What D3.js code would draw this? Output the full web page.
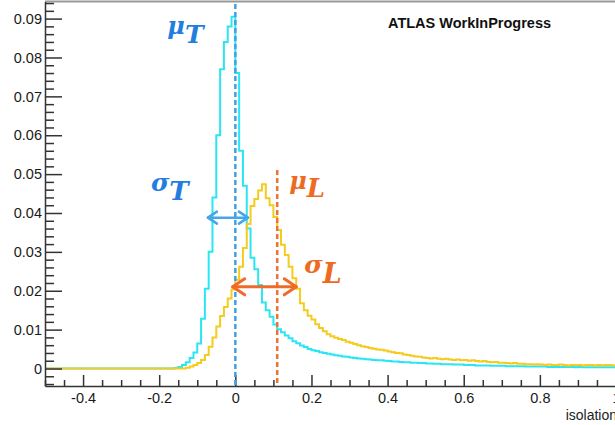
<!DOCTYPE html>
<html>
<head>
<meta charset="utf-8">
<script src="https://cdn.jsdelivr.net/npm/d3@7"></script>
<style>
  body { margin: 0; background: #fff; }
  svg { display: block; }
</style>
</head>
<body>
<script>
// isolation histograms, bins of 0.01 from -0.5 to 1.0
const binStart = -0.5;
const binWidth = 0.01;

// tight (T) sample, cyan
const tightValues = [
  0, 0, 0, 0, 0, 0, 0, 0, 0, 0,
  0, 0, 0, 0, 0, 0, 0, 0, 0, 0,
  0, 0, 0, 0, 0, 0, 0, 0, 0, 0,
  0, 0, 0, 0, 0.0001, 0.0004, 0.0009, 0.0016, 0.0027, 0.0041,
  0.0064, 0.0128, 0.0205, 0.0300, 0.0440, 0.0600, 0.0770, 0.0840, 0.0880, 0.0905,
  0.0760, 0.0560, 0.0470, 0.0360, 0.0285, 0.0255, 0.0215, 0.0170, 0.0150, 0.0133,
  0.0113, 0.0101, 0.0093, 0.0085, 0.0078, 0.0070, 0.0065, 0.0059, 0.0055, 0.0050,
  0.0047, 0.0045, 0.0042, 0.0040, 0.0038, 0.0036, 0.0034, 0.0033, 0.0031, 0.0030,
  0.0028, 0.0027, 0.0026, 0.0025, 0.0024, 0.0023, 0.0022, 0.0021, 0.0021, 0.0020,
  0.0019, 0.0018, 0.0018, 0.0017, 0.0016, 0.0016, 0.0015, 0.0015, 0.0014, 0.0014,
  0.0013, 0.0013, 0.0012, 0.0012, 0.0011, 0.0011, 0.0011, 0.0010, 0.0010, 0.0010,
  0.0009, 0.0009, 0.0009, 0.0008, 0.0008, 0.0008, 0.0008, 0.0007, 0.0007, 0.0007,
  0.0007, 0.0006, 0.0006, 0.0006, 0.0006, 0.0006, 0.0005, 0.0005, 0.0005, 0.0005,
  0.0005, 0.0005, 0.0004, 0.0004, 0.0004, 0.0004, 0.0004, 0.0004, 0.0004, 0.0003,
  0.0004, 0.0003, 0.0003, 0.0003, 0.0003, 0.0003, 0.0003, 0.0003, 0.0003, 0.0003
];

// loose (L) sample, yellow
const looseValues = [
  0, 0, 0, 0, 0, 0, 0, 0, 0, 0,
  0, 0, 0, 0, 0, 0, 0, 0, 0, 0,
  0, 0, 0, 0, 0, 0, 0, 0, 0, 0,
  0, 0, 0, 0, 0, 0, 0, 0.0002, 0.0005, 0.0009,
  0.0014, 0.0022, 0.0035, 0.0056, 0.0080, 0.0108, 0.0135, 0.0158, 0.0180, 0.0203,
  0.0228, 0.0262, 0.0310, 0.0372, 0.0418, 0.0436, 0.0458, 0.0474, 0.0438, 0.0420,
  0.0390, 0.0356, 0.0318, 0.0292, 0.0262, 0.0232, 0.0205, 0.0168, 0.0150, 0.0136,
  0.0126, 0.0114, 0.0104, 0.0096, 0.0088, 0.0083, 0.0079, 0.0076, 0.0073, 0.0069,
  0.0066, 0.0063, 0.0060, 0.0057, 0.0055, 0.0053, 0.0051, 0.0049, 0.0048, 0.0046,
  0.0044, 0.0042, 0.0040, 0.0039, 0.0036, 0.0035, 0.0033, 0.0031, 0.0030, 0.0028,
  0.0027, 0.0026, 0.0027, 0.0025, 0.0024, 0.0025, 0.0023, 0.0022, 0.0023, 0.0021,
  0.0022, 0.0020, 0.0021, 0.0019, 0.0018, 0.0019, 0.0017, 0.0016, 0.0017, 0.0015,
  0.0015, 0.0014, 0.0013, 0.0014, 0.0012, 0.0012, 0.0011, 0.0011, 0.0010, 0.0011,
  0.0010, 0.0009, 0.0010, 0.0009, 0.0009, 0.0010, 0.0009, 0.0008, 0.0009, 0.0009,
  0.0009, 0.0008, 0.0009, 0.0009, 0.0008, 0.0009, 0.0008, 0.0009, 0.0009, 0.0008
];

const yTicks = [0, 0.01, 0.02, 0.03, 0.04, 0.05, 0.06, 0.07, 0.08, 0.09];
const yTickLabels = ["0", "0.01", "0.02", "0.03", "0.04", "0.05", "0.06", "0.07", "0.08", "0.09"];
const xTicks = [-0.4, -0.2, 0, 0.2, 0.4, 0.6, 0.8, 1];
const xTickLabels = ["-0.4", "-0.2", "0", "0.2", "0.4", "0.6", "0.8", "1"];

// means and widths marked on the plot
const muT = 0;
const muL = 0.11;
const sigmaT = { from: -0.072, to: 0.033, level: 0.0388 };
const sigmaL = { from: -0.007, to: 0.16, level: 0.021 };

const width = 615;
const height = 425;

const x = d3.scaleLinear().domain([-0.5, 1.0]).range([45, 616]);
const y = d3.scaleLinear().domain([-0.0045, 0.0944]).range([386, 1.5]);

const svg = d3
  .select("body")
  .append("svg")
  .attr("width", width)
  .attr("height", height)
  .style("font-family", "'Liberation Sans', Arial, sans-serif");

// frame top
svg.append("line")
  .attr("x1", x(-0.5)).attr("x2", x(1.0))
  .attr("y1", y.range()[1]).attr("y2", y.range()[1])
  .attr("stroke", "#9a9a9a")
  .attr("stroke-width", 2);

// histograms
function steps(values) {
  const pts = values.map((v, i) => [binStart + i * binWidth, v]);
  pts.push([binStart + values.length * binWidth, values[values.length - 1]]);
  return pts;
}
const histLine = d3.line()
  .x((d) => x(d[0]))
  .y((d) => y(d[1]))
  .curve(d3.curveStepAfter);

svg.append("path")
  .attr("d", histLine(steps(tightValues)))
  .attr("fill", "none")
  .attr("stroke", "#2ae6f2")
  .attr("stroke-width", 2);

svg.append("path")
  .attr("d", histLine(steps(looseValues)))
  .attr("fill", "none")
  .attr("stroke", "#f4cb1e")
  .attr("stroke-width", 2);

// axes, ROOT style ticks pointing inward
const yMinor = d3.range(-0.004, 0.0945, 0.002).filter((v) => Math.abs(v * 100 - Math.round(v * 100)) > 1e-6);
const xMinor = d3.range(-0.5, 1.0001, 0.05).filter((v) => Math.abs(v * 5 - Math.round(v * 5)) > 1e-6);

const yAxis = svg.append("g")
  .attr("transform", `translate(${x(-0.5)},0)`)
  .call(d3.axisLeft(y)
    .tickValues(yTicks)
    .tickSize(-17)
    .tickSizeOuter(0)
    .tickPadding(3)
    .tickFormat((d, i) => yTickLabels[i]));
yAxis.append("g").call(d3.axisLeft(y).tickValues(yMinor).tickSize(-9).tickFormat(""))
  .select(".domain").remove();

const xAxis = svg.append("g")
  .attr("transform", `translate(0,${y.range()[0]})`)
  .call(d3.axisBottom(x)
    .tickValues(xTicks)
    .tickSize(-11)
    .tickSizeOuter(0)
    .tickPadding(7)
    .tickFormat((d, i) => xTickLabels[i]));
xAxis.append("g").call(d3.axisBottom(x).tickValues(xMinor).tickSize(-6).tickFormat(""))
  .select(".domain").remove();

svg.selectAll(".domain, .tick line")
  .attr("stroke", "#333")
  .attr("stroke-width", 1.5);
svg.selectAll(".tick text")
  .attr("font-size", 14.5)
  .attr("font-family", "'Liberation Sans', Arial, sans-serif")
  .attr("fill", "#1a1a1a");

svg.append("text")
  .attr("x", 617)
  .attr("y", 420)
  .attr("text-anchor", "end")
  .attr("font-size", 14)
  .attr("fill", "#222")
  .text("isolation");

svg.append("text")
  .attr("x", 388)
  .attr("y", 28)
  .attr("font-size", 14.5)
  .attr("font-weight", "bold")
  .attr("fill", "#111")
  .text("ATLAS WorkInProgress");

// mean markers
svg.append("line")
  .attr("x1", x(muT)).attr("x2", x(muT))
  .attr("y1", 4).attr("y2", y.range()[0])
  .attr("stroke", "#3da2e6")
  .attr("stroke-width", 2.5)
  .attr("stroke-dasharray", "5,3");

svg.append("line")
  .attr("x1", x(muL)).attr("x2", x(muL))
  .attr("y1", 170).attr("y2", y.range()[0])
  .attr("stroke", "#ea7436")
  .attr("stroke-width", 2.5)
  .attr("stroke-dasharray", "5,3");

// width arrows
function doubleArrow(s, color, head, spread, w) {
  const x0 = x(s.from), x1 = x(s.to), yy = y(s.level);
  const g = svg.append("g")
    .attr("fill", "none")
    .attr("stroke", color)
    .attr("stroke-width", w)
    .attr("stroke-linecap", "round")
    .attr("stroke-linejoin", "round");
  g.append("line").attr("x1", x0).attr("x2", x1).attr("y1", yy).attr("y2", yy);
  g.append("path").attr("d", `M${x0 + head},${yy - spread}L${x0},${yy}L${x0 + head},${yy + spread}`);
  g.append("path").attr("d", `M${x1 - head},${yy - spread}L${x1},${yy}L${x1 - head},${yy + spread}`);
}
doubleArrow(sigmaT, "#46a6ea", 9, 6, 2.5);
doubleArrow(sigmaL, "#f06a28", 12, 8, 3);

// symbol labels
function symbol(px, py, sym, sub, color, size, subSize, shift) {
  const t = svg.append("text")
    .attr("x", px)
    .attr("y", py)
    .attr("font-family", "'DejaVu Serif', serif")
    .attr("font-style", "italic")
    .attr("font-weight", "bold")
    .attr("fill", color);
  t.append("tspan").attr("font-size", size).text(sym);
  t.append("tspan").attr("font-size", subSize).attr("dy", shift).text(sub);
}
symbol(x(muT) - 68, 34, "μ", "T", "#1f7ee0", 24, 25, 9);
symbol(x(sigmaT.from) - 57, 191, "σ", "T", "#1f7ee0", 25, 26, 9);
symbol(x(muL) + 12, 189, "μ", "L", "#ee6a22", 24, 26, 8);
symbol(x(sigmaL.to) + 8, 273, "σ", "L", "#ee6a22", 25, 27, 10);
</script>
</body>
</html>
